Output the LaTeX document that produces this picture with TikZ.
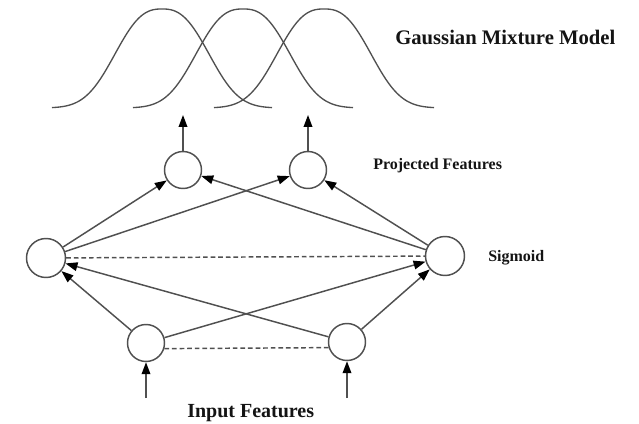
\documentclass[tikz,border=0pt]{standalone}
\usepackage{fontspec}
\setmainfont{Liberation Serif}
\usetikzlibrary{arrows.meta}
\definecolor{lc}{RGB}{80,80,80}
\definecolor{tc}{RGB}{20,20,20}
\begin{document}
\begin{tikzpicture}[x=0.75pt,y=-0.75pt,
  ln/.style={draw=lc, line width=1.1pt},
  curve/.style={draw=lc, line width=1pt},
  unit/.style={circle, draw=lc, line width=1.1pt, minimum size=27.75pt, inner sep=0pt},
  bigunit/.style={unit, minimum size=29.25pt},
  arr/.style={ln, -{Triangle[length=9pt,width=6.5pt,color=black]}},
  dsh/.style={ln, dash pattern=on 3.5pt off 2.2pt},
  lbl/.style={anchor=base west, inner sep=0pt, text=tc, font=\bfseries}]
\useasboundingbox[fill=white] (0,0) rectangle (639,424);

% Gaussian mixture curves
\foreach \c in {162,243,324}
  \draw[curve] plot[domain=-110:110, samples=121, smooth]
    ({\c+\x},{108-99*exp(0-(abs(\x)/57+0.0001)^2.6)});

% nodes
\node[unit] (p1) at (183,170) {};
\node[unit] (p2) at (308,170) {};
\node[bigunit] (s1) at (46,258) {};
\node[bigunit] (s2) at (445,256) {};
\node[unit] (i1) at (146,343) {};
\node[unit] (i2) at (347,342) {};

\coordinate (g1) at (183,115);
\coordinate (g2) at (308,115);
\coordinate (in1) at (146,398);
\coordinate (in2) at (347,398);

% labels
\node[lbl, font=\fontsize{15.5}{18}\selectfont\bfseries] (tgmm) at (395,45) {Gaussian Mixture Model};
\node[lbl, font=\fontsize{12}{14}\selectfont\bfseries] (tproj) at (373,170) {Projected Features};
\node[lbl, font=\fontsize{12}{14}\selectfont\bfseries] (tsig) at (488,262) {Sigmoid};
\node[lbl, font=\fontsize{15}{18}\selectfont\bfseries] (tin) at (187,417.5) {Input Features};

% connectors
\draw[arr] (p1) -- (g1);
\draw[arr] (p2) -- (g2);
\draw[arr] (in1) -- (i1);
\draw[arr] (in2) -- (i2);

\draw[arr] (s1) -- (p1);
\draw[arr] (s1) -- (p2);
\draw[arr] (s2) -- (p1);
\draw[arr] (s2) -- (p2);

\draw[arr] (i1) -- (s1);
\draw[arr] (i1) -- (s2);
\draw[arr] (i2) -- (s1);
\draw[arr] (i2) -- (s2);

\draw[dsh] (s1) -- (s2);
\draw[dsh] (i1.-17) -- (i2.197);
\end{tikzpicture}
\end{document}
